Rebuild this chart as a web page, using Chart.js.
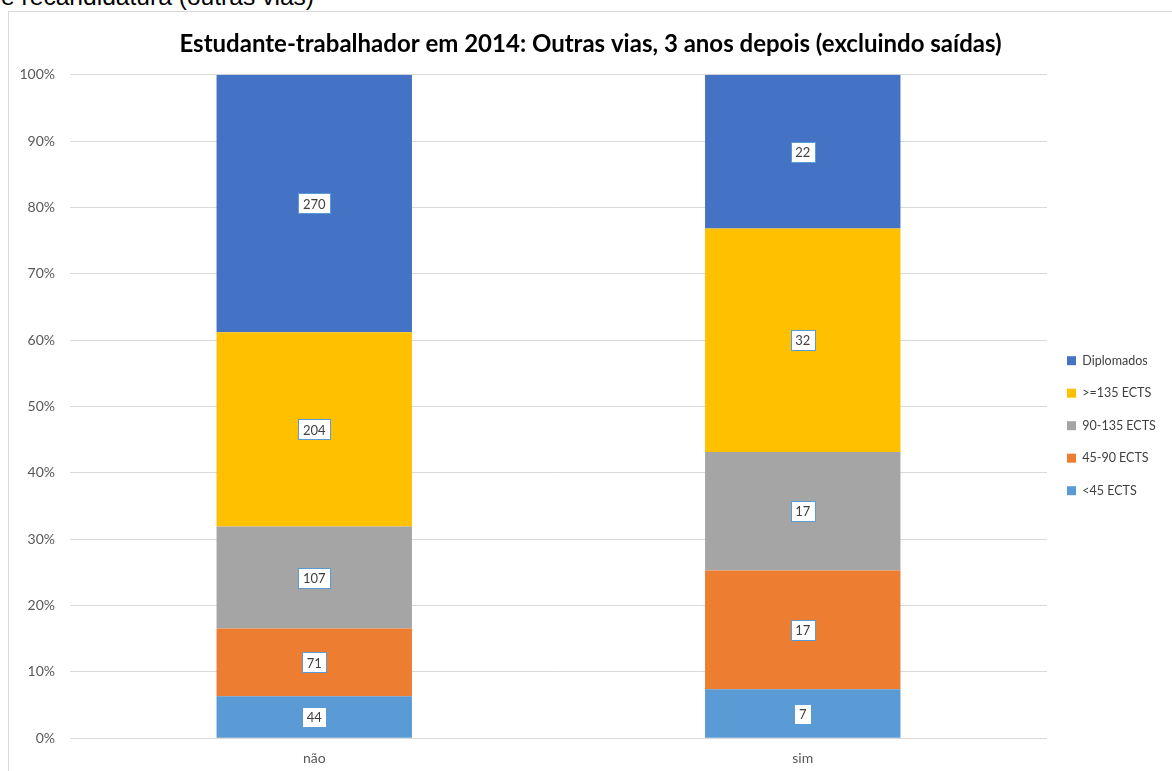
<!DOCTYPE html>
<html>
<head>
<meta charset="utf-8">
<script src="https://cdn.jsdelivr.net/npm/chart.js@4/dist/chart.umd.min.js"></script>
<style>
  html, body { margin: 0; padding: 0; background: #fff; overflow: hidden; width: 1172px; height: 771px; }
  #top { position: absolute; left: 1px; top: -15px; font: 24.6px "Liberation Sans", Arial, sans-serif; line-height: 24px; color: #000; white-space: nowrap; }
  #wrap { position: absolute; left: 8px; top: 11px; width: 1164px; height: 760px; border-left: 1px solid #d9d9d9; border-top: 1px solid #d9d9d9; }
  canvas { display: block; }
</style>
</head>
<body>
<div id="top">e recandidatura (outras vias)</div>
<div id="wrap"><canvas id="c" width="1163" height="759"></canvas></div>
<script>
const categories = ["não", "sim"];
const seriesNames = ["<45 ECTS", "45-90 ECTS", "90-135 ECTS", ">=135 ECTS", "Diplomados"];
const lt45 = [44, 7];
const e45_90 = [71, 17];
const e90_135 = [107, 17];
const ge135 = [204, 32];
const diplomados = [270, 22];
const yTicks = ["0%", "10%", "20%", "30%", "40%", "50%", "60%", "70%", "80%", "90%", "100%"];
const colors = ["#5B9BD5", "#ED7D31", "#A5A5A5", "#FFC000", "#4472C4"];

const counts = [lt45, e45_90, e90_135, ge135, diplomados];
const totals = categories.map((_, i) => counts.reduce((s, a) => s + a[i], 0));

const datasets = counts.map((arr, k) => ({
  label: seriesNames[k],
  data: arr.map((v, i) => v / totals[i]),
  counts: arr,
  backgroundColor: colors[k],
  borderWidth: 0,
  categoryPercentage: 1,
  barPercentage: 0.4
}));

const FONT = "Lato, 'Open Sans', sans-serif";

const labelPlugin = {
  id: 'boxLabels',
  afterDatasetsDraw(chart) {
    const ctx = chart.ctx;
    ctx.save();
    ctx.font = "13px " + FONT;
    ctx.textAlign = 'center';
    ctx.textBaseline = 'middle';
    chart.data.datasets.forEach((ds, di) => {
      const meta = chart.getDatasetMeta(di);
      meta.data.forEach((el, i) => {
        const txt = String(ds.counts[i]);
        const cx = el.x;
        const cy = (el.y + el.base) / 2;
        const w = Math.round(ctx.measureText(txt).width + 9);
        const h = 20;
        const x0 = Math.round(cx - w / 2) + 0.5;
        const y0 = Math.round(cy - h / 2) + 0.5;
        ctx.fillStyle = '#fff';
        ctx.fillRect(x0, y0, w, h);
        ctx.strokeStyle = '#5B9BD5';
        ctx.lineWidth = 1;
        ctx.strokeRect(x0, y0, w, h);
        ctx.fillStyle = '#404040';
        ctx.fillText(txt, cx, cy + 1);
      });
    });
    ctx.restore();
  }
};

const ch = new Chart(document.getElementById('c'), {
  type: 'bar',
  data: { labels: categories, datasets },
  options: {
    responsive: false,
    devicePixelRatio: 1,
    animation: false,
    layout: { padding: { top: 0, right: 0, bottom: 0, left: 0 } },
    plugins: {
      title: {
        display: true,
        text: "Estudante-trabalhador em 2014: Outras vias, 3 anos depois (excluindo saídas)",
        color: '#000',
        font: { family: FONT, size: 24, weight: 'bold' },
        padding: { top: 18, bottom: 16 }
      },
      legend: {
        position: 'right',
        reverse: true,
        title: { display: true, text: ' ', font: { size: 12 }, padding: { top: 27, bottom: 27 } },
        labels: {
          boxWidth: 9,
          boxHeight: 9,
          padding: 20,
          color: '#404040',
          font: { family: FONT, size: 12.5 }
        }
      },
      tooltip: { enabled: false }
    },
    scales: {
      x: {
        stacked: true,
        grid: { display: false },
        border: { display: false },
        ticks: { color: '#595959', font: { family: FONT, size: 14 }, padding: 4 }
      },
      y: {
        stacked: true,
        min: 0,
        max: 1,
        afterFit(s) { s.width = 61; },
        grid: { color: '#d9d9d9', drawTicks: false },
        border: { display: false },
        ticks: {
          stepSize: 0.1,
          padding: 15,
          color: '#595959',
          font: { family: FONT, size: 14 },
          callback: (v) => yTicks[Math.round(v * 10)]
        }
      }
    }
  },
  plugins: [labelPlugin]
});
(function () {
  const lg = ch.legend;
  const f = lg.fit;
  lg.fit = function () { f.call(this); this.width = 125; };
  ch.update();
})();
</script>
</body>
</html>
